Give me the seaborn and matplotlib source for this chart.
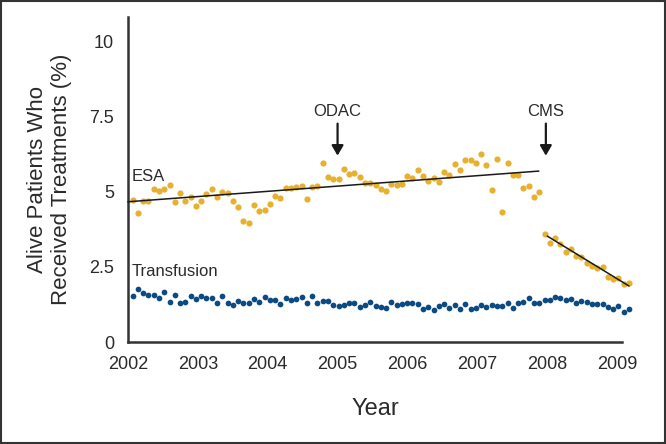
import numpy as np
import pandas as pd
import matplotlib
matplotlib.use("Agg")
import matplotlib.pyplot as plt
import seaborn as sns
from matplotlib.patches import Rectangle

# Data, one value per 4-week period from early 2002
esa = [4.72, 4.29, 4.68, 4.68, 5.08, 5.02, 5.10, 5.21, 4.64, 4.94,
       4.68, 4.81, 4.51, 4.68, 4.92, 5.07, 4.82, 4.98, 4.95, 4.67,
       4.49, 4.02, 3.95, 4.55, 4.35, 4.39, 4.60, 4.84, 4.77, 5.11,
       5.12, 5.14, 5.18, 4.74, 5.14, 5.18, 5.96, 5.49, 5.41, 5.41,
       5.76, 5.58, 5.61, 5.47, 5.30, 5.27, 5.23, 5.08, 5.02, 5.25,
       5.23, 5.25, 5.50, 5.44, 5.71, 5.51, 5.34, 5.46, 5.32, 5.64,
       5.54, 5.92, 5.72, 6.06, 6.04, 5.94, 6.25, 5.88, 5.04, 6.07,
       4.32, 5.94, 5.55, 5.55, 5.13, 5.18, 4.82, 4.98, 3.60, 3.29,
       3.47, 3.26, 2.99, 3.10, 2.86, 2.82, 2.61, 2.51, 2.46, 2.49,
       2.17, 2.08, 2.14, 1.92, 1.97]
transfusion = [1.53, 1.76, 1.62, 1.57, 1.57, 1.47, 1.66, 1.34, 1.56, 1.29,
               1.34, 1.52, 1.42, 1.52, 1.47, 1.47, 1.29, 1.52, 1.31, 1.23,
               1.37, 1.29, 1.29, 1.43, 1.33, 1.50, 1.39, 1.41, 1.25, 1.47,
               1.39, 1.43, 1.50, 1.31, 1.54, 1.29, 1.35, 1.37, 1.23, 1.21,
               1.23, 1.31, 1.29, 1.16, 1.24, 1.34, 1.19, 1.17, 1.12, 1.32,
               1.22, 1.26, 1.30, 1.30, 1.27, 1.10, 1.17, 1.06, 1.21, 1.26,
               1.12, 1.22, 1.11, 1.27, 1.09, 1.12, 1.24, 1.15, 1.24, 1.20,
               1.20, 1.29, 1.14, 1.29, 1.33, 1.45, 1.31, 1.31, 1.39, 1.39,
               1.50, 1.45, 1.41, 1.43, 1.31, 1.35, 1.32, 1.25, 1.26, 1.26,
               1.15, 1.09, 1.20, 1.01, 1.10]
period_years = np.linspace(2002.067, 2009.17, len(esa))

trend_pre_x = [2002.0, 2007.88]
trend_pre_y = [4.66, 5.68]
trend_post_x = [2008.0, 2009.17]
trend_post_y = [3.52, 1.86]

year_ticks = [2002, 2003, 2004, 2005, 2006, 2007, 2008, 2009]
pct_ticks = [0, 2.5, 5, 7.5, 10]
pct_labels = ["0", "2.5", "5", "7.5", "10"]

events = ["ODAC", "CMS"]
event_years = [2005.0, 2007.98]

df = pd.DataFrame({"year": period_years, "ESA": esa, "Transfusion": transfusion})

sns.set_style("white")
plt.rcParams["font.family"] = ["Liberation Sans", "DejaVu Sans"]

ESA_COL = "#E6B12F"
TRF_COL = "#0C4A83"
TXT = "#2b2b2b"

fig = plt.figure(figsize=(6.66, 4.44), dpi=100)
ax = fig.add_axes([0.192, 0.2297, 0.742, 0.732])

sns.scatterplot(data=df, x="year", y="ESA", ax=ax, color=ESA_COL, s=20,
                linewidth=0, clip_on=False, zorder=3)
sns.scatterplot(data=df, x="year", y="Transfusion", ax=ax, color=TRF_COL, s=17,
                linewidth=0, clip_on=False, zorder=3)
sns.lineplot(x=trend_pre_x, y=trend_pre_y, ax=ax, color="#1a1a1a", lw=1.1,
             zorder=4, clip_on=False)
sns.lineplot(x=trend_post_x, y=trend_post_y, ax=ax, color="#1a1a1a", lw=1.1,
             zorder=4, clip_on=False)

ax.set_xlim(2002, 2009.07)
ax.set_ylim(0, 10.8)
ax.set_xticks(year_ticks)
ax.set_xticklabels([str(y) for y in year_ticks])
ax.set_yticks(pct_ticks)
ax.set_yticklabels(pct_labels)
ax.tick_params(axis="both", direction="out", length=6, width=1.2,
               color="#333333", labelsize=13, labelcolor=TXT, pad=4)
sns.despine(ax=ax)
for side in ["left", "bottom"]:
    ax.spines[side].set_linewidth(1.8)
    ax.spines[side].set_color("#333333")

ax.set_xlabel("Year", fontsize=17, color=TXT, labelpad=18)
ax.set_ylabel("Alive Patients Who\nReceived Treatments (%)", fontsize=16,
              color=TXT, labelpad=12, linespacing=1.2)

ax.text(2002.06, 5.25, "ESA", fontsize=12, color=TXT, ha="left", va="bottom")
ax.text(2002.06, 2.08, "Transfusion", fontsize=12, color=TXT, ha="left", va="bottom")

for name, yr in zip(events, event_years):
    ax.annotate("", xy=(yr, 6.1), xytext=(yr, 7.35),
                arrowprops=dict(arrowstyle="-|>,head_width=0.35,head_length=0.6",
                                color="#1a1a1a", lw=1.6))
    ax.text(yr, 7.4, name, fontsize=12, color=TXT, ha="center", va="bottom")

fig.patches.append(Rectangle((0.0015, 0.0022), 0.997, 0.9956,
                             transform=fig.transFigure, fill=False,
                             edgecolor="#333333", lw=1.5))

fig.savefig("out.png", dpi=100)
